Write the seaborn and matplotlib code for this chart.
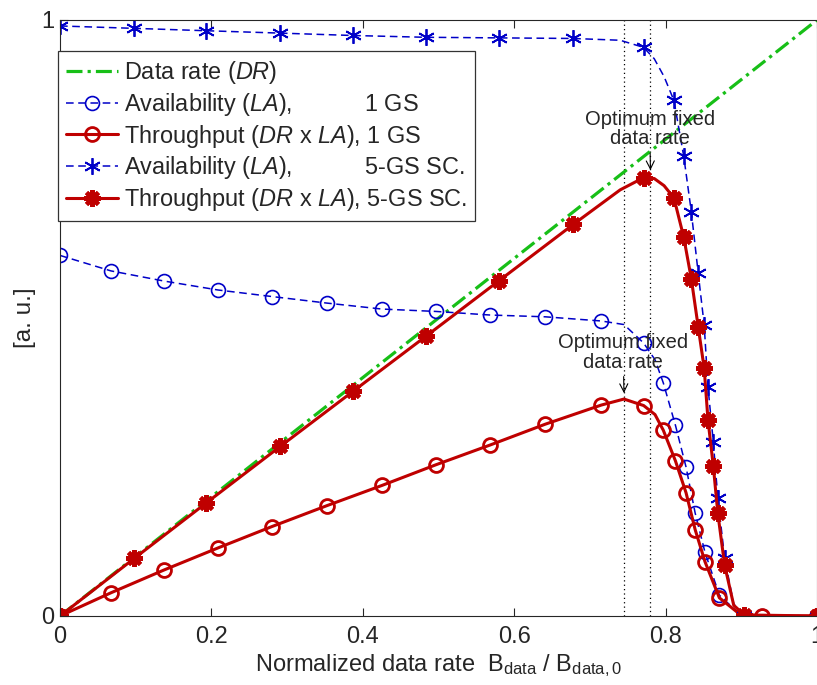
import numpy as np
import pandas as pd
import matplotlib
matplotlib.use("Agg")
import matplotlib.pyplot as plt
import seaborn as sns

# ---- data -------------------------------------------------------------
# data rate (DR) is the diagonal
dr_x = [0.0, 1.0]
dr_y = [0.0, 1.0]

# single ground station: sampled points (drawn with markers)
x_1gs = [0.0, 0.0674, 0.1374, 0.2087, 0.2800, 0.3527, 0.4254, 0.4967, 0.568,
         0.641, 0.715, 0.771, 0.797, 0.813, 0.827, 0.839, 0.852, 0.871, 0.927, 1.0]
la_1gs = [0.605, 0.579, 0.562, 0.547, 0.536, 0.525, 0.515, 0.511, 0.505,
          0.502, 0.495, 0.458, 0.391, 0.320, 0.250, 0.173, 0.107, 0.035, 0.0, 0.0]
thr_1gs = [0.0, 0.039, 0.0772, 0.1142, 0.1501, 0.1852, 0.2191, 0.2538, 0.2868,
           0.3218, 0.3539, 0.3531, 0.3116, 0.2602, 0.2068, 0.1451, 0.0912, 0.0305, 0.0, 0.0]
# intermediate points of the same curves (line only)
x_1gs_fine = [0.745, 0.786, 0.898]
la_1gs_fine = [0.489, 0.430, 0.003]
thr_1gs_fine = [0.364, 0.338, 0.003]

# five ground stations, site combining
x_5gs = [0.0, 0.098, 0.193, 0.291, 0.387, 0.483, 0.580, 0.678, 0.771, 0.811,
         0.824, 0.834, 0.843, 0.851, 0.856, 0.863, 0.869, 0.878, 0.904, 1.0]
la_5gs = [0.990, 0.986, 0.982, 0.978, 0.974, 0.971, 0.970, 0.969, 0.954, 0.865,
          0.771, 0.678, 0.576, 0.488, 0.384, 0.292, 0.198, 0.097, 0.002, 0.0]
thr_5gs = [0.0, 0.0966, 0.1895, 0.2846, 0.3769, 0.4690, 0.5626, 0.6570, 0.7355, 0.7015,
           0.6353, 0.5655, 0.4856, 0.4153, 0.3287, 0.2520, 0.1721, 0.0852, 0.0018, 0.0]
x_5gs_fine = [0.740, 0.785, 0.798, 0.890]
la_5gs_fine = [0.966, 0.935, 0.905, 0.020]
thr_5gs_fine = [0.715, 0.734, 0.722, 0.018]

optimum_1gs = 0.745
optimum_5gs = 0.780
x_ticks = [0, 0.2, 0.4, 0.6, 0.8, 1]
x_tick_labels = ["0", "0.2", "0.4", "0.6", "0.8", "1"]
y_ticks = [0, 1]
y_tick_labels = ["0", "1"]

# ---- style ------------------------------------------------------------
sns.set_theme(style="white")
plt.rcParams.update({
    "font.family": ["Liberation Sans", "DejaVu Sans"],
    "mathtext.fontset": "custom",
    "mathtext.rm": "Liberation Sans",
    "mathtext.it": "Liberation Sans:italic",
    "mathtext.bf": "Liberation Sans:bold",
    "axes.edgecolor": "#262626",
    "axes.linewidth": 0.8,
})

GREEN = "#17bf17"
BLUE = "#0000c8"
RED = "#bf0000"


def merged(xs, ys, xf, yf):
    """Combine sampled points with intermediate points; return frame and marker indices."""
    df = pd.DataFrame({"x": list(xs) + list(xf), "y": list(ys) + list(yf),
                       "m": [True] * len(xs) + [False] * len(xf)})
    df = df.sort_values("x").reset_index(drop=True)
    return df, list(np.flatnonzero(df["m"].to_numpy()))


fig = plt.figure(figsize=(8.17, 6.85), dpi=100)
ax = fig.add_axes([60 / 817, 1 - 616 / 685, 757 / 817, 596 / 685])

for xv in (optimum_1gs, optimum_5gs):
    ax.axvline(xv, color="black", linestyle=(0, (1, 2.5)), linewidth=0.9, zorder=1)

sns.lineplot(x=dr_x, y=dr_y, ax=ax, color=GREEN, linewidth=2.3,
             linestyle=(0, (5, 1.6, 1, 1.6)), estimator=None, sort=False,
             label=r"Data rate ($\mathit{DR}$)")

d, mk = merged(x_1gs, la_1gs, x_1gs_fine, la_1gs_fine)
sns.lineplot(data=d, x="x", y="y", ax=ax, color=BLUE, linewidth=1.1,
             linestyle=(0, (5, 3)), marker="o", markevery=mk, markersize=10,
             markerfacecolor="none", markeredgecolor=BLUE, markeredgewidth=1.2,
             estimator=None, sort=False,
             label=r"Availability ($\mathit{LA}$),           1 GS")

d, mk = merged(x_1gs, thr_1gs, x_1gs_fine, thr_1gs_fine)
sns.lineplot(data=d, x="x", y="y", ax=ax, color=RED, linewidth=2.2,
             marker="o", markevery=mk, markersize=10,
             markerfacecolor="none", markeredgecolor=RED, markeredgewidth=2.0,
             estimator=None, sort=False,
             label=r"Throughput ($\mathit{DR}$ x $\mathit{LA}$), 1 GS")

d, mk = merged(x_5gs, la_5gs, x_5gs_fine, la_5gs_fine)
sns.lineplot(data=d, x="x", y="y", ax=ax, color=BLUE, linewidth=1.1,
             linestyle=(0, (5, 3)), marker=(6, 2, 0), markevery=mk, markersize=12,
             markeredgecolor=BLUE, markeredgewidth=1.3,
             estimator=None, sort=False,
             label=r"Availability ($\mathit{LA}$),           5-GS SC.")

d, mk = merged(x_5gs, thr_5gs, x_5gs_fine, thr_5gs_fine)
sns.lineplot(data=d, x="x", y="y", ax=ax, color=RED, linewidth=2.2,
             marker=(8, 2, 0), markevery=mk, markersize=12,
             markeredgecolor=RED, markeredgewidth=3.0,
             estimator=None, sort=False,
             label=r"Throughput ($\mathit{DR}$ x $\mathit{LA}$), 5-GS SC.")

# optimum annotations
arrow = dict(arrowstyle="->", color="black", lw=0.8, shrinkA=1, shrinkB=0)
ax.annotate("Optimum fixed\ndata rate", xy=(optimum_5gs, 0.748), xytext=(0.779, 0.817),
            ha="center", va="center", fontsize=14.5, linespacing=1.05,
            arrowprops=arrow, zorder=6)
ax.annotate("Optimum fixed\ndata rate", xy=(optimum_1gs, 0.374), xytext=(0.744, 0.442),
            ha="center", va="center", fontsize=14.5, linespacing=1.05,
            arrowprops=arrow, zorder=6)

ax.set_xlim(0, 1)
ax.set_ylim(0, 1)
ax.set_xticks(x_ticks)
ax.set_xticklabels(x_tick_labels)
ax.set_yticks(y_ticks)
ax.set_yticklabels(y_tick_labels)
ax.tick_params(axis="both", direction="in", length=6, width=0.8, labelsize=17,
               top=True, right=False, bottom=True, left=True)
ax.tick_params(axis="x", pad=7)
ax.tick_params(axis="y", pad=4)
for s in ax.spines.values():
    s.set_visible(True)

ax.set_xlabel(r"Normalized data rate  B$_\mathregular{data}$ / B$_\mathregular{data,0}$",
              fontsize=17, labelpad=3)
ax.set_ylabel("[a. u.]", fontsize=17.5, labelpad=4)

leg = ax.legend(loc="upper left", bbox_to_anchor=(58 / 817, 1 - 51 / 685),
                bbox_transform=fig.transFigure, borderaxespad=0, fontsize=16.9,
                frameon=True, fancybox=False, framealpha=1, edgecolor="#333333",
                handlelength=2.2, handletextpad=0.25, borderpad=0.35,
                labelspacing=0.2)
leg.get_frame().set_linewidth(0.9)

fig.savefig("out.png", dpi=100)
